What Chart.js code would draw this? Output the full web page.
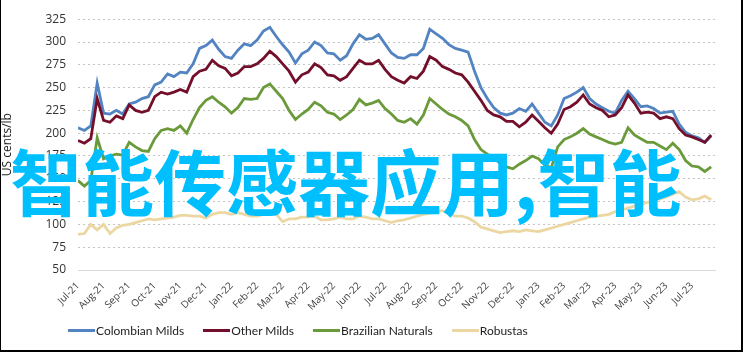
<!DOCTYPE html>
<html>
<head>
<meta charset="utf-8">
<script src="https://cdn.jsdelivr.net/npm/chart.js@4.4.1/dist/chart.umd.min.js"></script>
<style>
html,body{margin:0;padding:0;background:#fff;}
#wrap{position:relative;width:743px;height:352px;overflow:hidden;background:#fff;}
#c{position:absolute;left:0;top:0;}
#legend{position:absolute;left:68px;top:323px;display:flex;font:12px Lato,sans-serif;color:#222;white-space:nowrap;}
#legend .item{display:flex;align-items:center;margin-right:19px;}
#legend .item i{display:inline-block;width:27px;height:3px;margin-right:1px;}
#stamp{position:absolute;left:10px;top:143px;font:700 72px "Noto Sans CJK SC";line-height:72px;color:#00bfff;white-space:nowrap;}
.edge{position:absolute;background:#000;}
</style>
</head>
<body>
<div id="wrap">
  <canvas id="c" width="743" height="352"></canvas>
  <div id="legend"></div>
  <div id="stamp">智能传感器应用,智能</div>
  <div class="edge" style="left:0;top:0;width:1px;height:352px"></div>
  <div class="edge" style="right:0;top:0;width:2px;height:352px"></div>
  <div class="edge" style="left:0;bottom:0;width:743px;height:2px"></div>
</div>
<script>
/* ── DATA (weekly samples, Jul-21 .. end Jul-23) ── */
const months = ['Jul-21','Aug-21','Sep-21','Oct-21','Nov-21','Dec-21','Jan-22','Feb-22','Mar-22','Apr-22','May-22','Jun-22',
  'Jul-22','Aug-22','Sep-22','Oct-22','Nov-22','Dec-22','Jan-23','Feb-23','Mar-23','Apr-23','May-23','Jun-23','Jul-23'];

const colombian = [206,203,208,255,222,221,225,221,232,234,238,240,253,256,265,262,267,
  266,276,293,296,302,292,284,282,291,298,296,302,312,316,306,297,289,
  277,287,291,300,296,288,287,280,285,298,308,303,304,308,298,288,283,
  282,286,286,293,314,309,304,297,293,291,289,268,250,238,228,222,220,
  222,227,224,232,222,212,208,220,238,241,245,250,238,232,228,224,222,
  236,246,238,229,230,227,222,223,224,210,201,197,195,190,197];

const otherMilds = [192,189,194,238,214,212,219,216,231,225,223,225,240,245,243,245,248,
  245,262,268,270,280,274,271,263,266,273,273,276,282,290,284,276,268,
  256,264,267,276,272,264,263,258,262,271,280,276,276,280,270,262,258,
  255,262,260,268,284,280,273,270,266,264,256,246,236,225,220,218,213,
  213,207,212,220,213,206,200,210,226,229,234,242,232,228,225,218,220,
  228,242,233,222,223,222,216,218,216,205,198,196,193,190,198];

const brazilian = [148,142,148,195,172,175,177,176,190,185,181,180,194,203,205,203,208,
  200,215,228,236,240,234,229,222,228,238,237,238,250,254,246,238,225,
  215,221,226,234,230,223,221,215,220,226,237,231,233,236,227,221,214,
  212,216,210,220,238,232,226,221,218,214,208,193,182,177,173,167,163,
  161,166,170,175,172,165,162,185,193,196,200,205,199,196,193,190,188,
  190,206,198,194,190,190,186,182,189,182,170,164,163,158,163];

const robustas = [89,90,100,94,100,90,96,99,100,102,104,106,105,106,107,108,110,
  110,109,109,107,111,113,113,111,113,111,109,109,111,112,111,103,106,
  106,108,108,109,105,105,106,108,106,106,109,108,106,106,104,102,104,
  105,107,109,111,112,114,115,112,109,109,107,103,97,95,93,91,92,
  93,92,94,93,92,94,96,98,100,102,104,106,108,109,110,111,114,
  116,118,120,122,124,126,128,130,133,136,130,127,128,131,127];

const seriesNames  = ['Colombian Milds','Other Milds','Brazilian Naturals','Robustas'];
const seriesColors = ['#5384c2','#730f2b','#6b9a3b','#ecd7a3'];

// x position of each weekly sample, in months since Jul-21
const weeks = colombian.map((_, i) => i / 4);

const FONT = 'Open Sans';

const ds = [colombian, otherMilds, brazilian, robustas].map((d, i) => ({
  label: seriesNames[i],
  data: d,
  borderColor: seriesColors[i],
  backgroundColor: seriesColors[i],
  borderWidth: 2.8,
  pointRadius: 0,
  tension: 0,
  fill: false,
  order: i === 0 ? 1 : 0
}));

new Chart(document.getElementById('c').getContext('2d'), {
  type: 'line',
  data: { labels: weeks, datasets: ds },
  options: {
    responsive: false,
    animation: false,
    events: [],
    layout: { padding: { left: 0, right: 28, top: 14, bottom: 38 } },
    plugins: { legend: { display: false }, tooltip: { enabled: false } },
    scales: {
      x: {
        type: 'linear', min: 0, max: 24.9,
        afterFit(s) { s.height = 44; },
        grid: { display: false },
        border: { display: true, color: '#d9d9d9', width: 1 },
        ticks: {
          stepSize: 1, autoSkip: false, maxRotation: 45, minRotation: 45,
          color: '#404040', font: { family: FONT, size: 10 }, padding: 2,
          callback: v => Number.isInteger(v) ? months[v] : ''
        }
      },
      y: {
        min: 50, max: 325,
        afterFit(s) { s.width = 78; },
        border: { display: false, dash: [2, 3] },
        grid: { color: '#c4c4c4', lineWidth: 1, drawTicks: false },
        ticks: { stepSize: 25, padding: 12, color: '#333', font: { family: FONT, size: 12 } },
        title: { display: true, text: 'US cents/lb', color: '#222', font: { family: FONT, size: 12 }, padding: { top: 0, bottom: 0 } }
      }
    }
  }
});

/* ── LEGEND ── */
document.getElementById('legend').innerHTML = seriesNames.map((n, i) =>
  `<span class="item"><i style="background:${seriesColors[i]}"></i>${n}</span>`).join('');
</script>
</body>
</html>
